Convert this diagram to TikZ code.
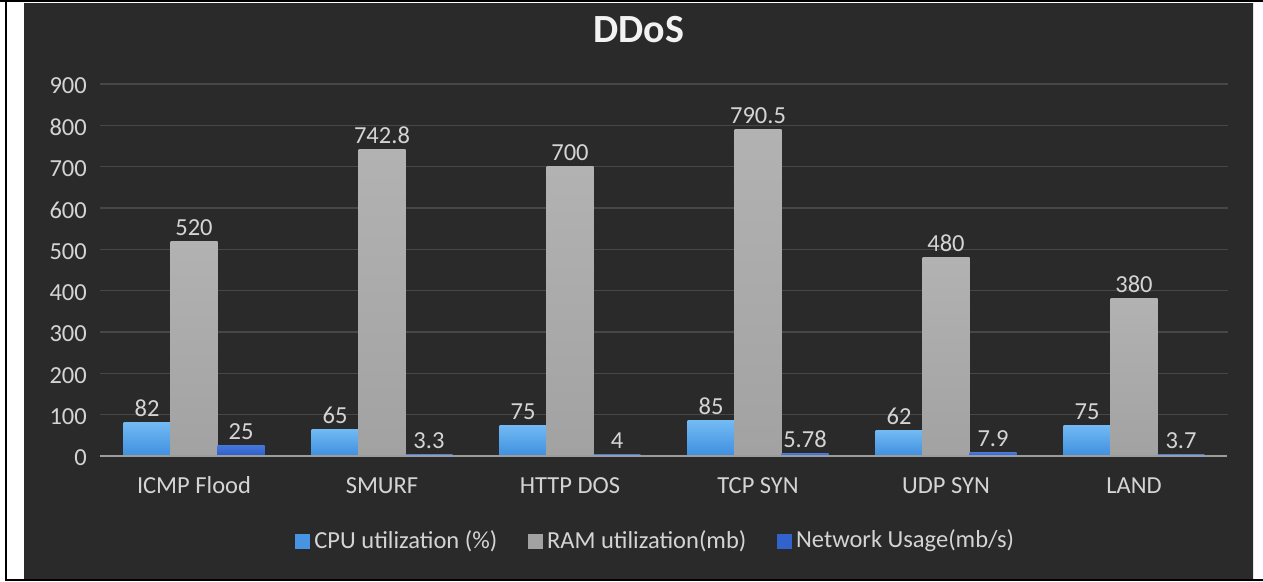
\documentclass[tikz,border=0pt]{standalone}
\usepackage{fontspec}
\setmainfont{Carlito}
\usepackage{xcolor}
\usepackage{tikz}
\usetikzlibrary{positioning}

\definecolor{bgedge}{HTML}{2A2A2A}
\definecolor{bgmid}{HTML}{3D3D3D}
\definecolor{gridgray}{HTML}{474747}
\definecolor{axisgray}{HTML}{9C9C9C}
\definecolor{textgray}{HTML}{D4D4D4}
\definecolor{cputop}{HTML}{72BAF4}
\definecolor{cpubot}{HTML}{3F8FDF}
\definecolor{ramtop}{HTML}{B2B2B2}
\definecolor{rambot}{HTML}{A2A2A2}
\definecolor{nettop}{HTML}{4476DC}
\definecolor{netbot}{HTML}{2D5EC8}

\begin{document}
\begin{tikzpicture}[x=1pt, y=-1pt]

\tikzstyle{lbl} = [text=textgray, inner sep=0pt, font=\fontsize{24.5}{28}\selectfont]
\tikzstyle{title} = [text=white!95!black, inner sep=0pt, font=\fontsize{40}{44}\selectfont\bfseries]
\tikzstyle{gridline} = [draw=gridgray, line width=1.5pt]
\tikzstyle{axis} = [draw=axisgray, line width=2pt]
\tikzstyle{cpubar} = [top color=cputop, bottom color=cpubot]
\tikzstyle{rambar} = [top color=ramtop, bottom color=rambot]
\tikzstyle{netbar} = [top color=nettop, bottom color=netbot]
\tikzstyle{swatch} = [minimum size=15pt, inner sep=0pt]
\tikzstyle{frame} = [draw=black, line width=2.5pt]

\useasboundingbox (0,0) rectangle (1263,581);

% Background
\fill[left color=bgedge, middle color=bgmid, right color=bgedge] (24,3) rectangle (1253,578);
\draw[frame] (0,1.2) -- (1263,1.2);
\draw[frame] (6,0) -- (6,579.8) -- (1263,579.8);

% Grid and ticks
\foreach \v in {100,200,...,900}
  \draw[gridline] (100,{456-\v*0.4133}) -- (1228,{456-\v*0.4133});
\foreach \v in {0,100,...,900}
  \node[lbl, anchor=east] (tick-\v) at (87,{458-\v*0.4133}) {\v};

\node[title] (title) at (639,30) {DDoS};

% Bars and data labels
\foreach \cat/\cpu/\ram/\net [count=\i] in {ICMP Flood/82/520/25, SMURF/65/742.8/3.3, HTTP DOS/75/700/4, TCP SYN/85/790.5/5.78, UDP SYN/62/480/7.9, LAND/75/380/3.7} {
  \pgfmathsetmacro{\cx}{194+188*(\i-1)}
  \fill[cpubar] ({\cx-70.5},456) rectangle ({\cx-23.5},{456-\cpu*0.4133});
  \fill[rambar] ({\cx-23.5},456) rectangle ({\cx+23.5},{456-\ram*0.4133});
  \fill[netbar] ({\cx+23.5},456) rectangle ({\cx+70.5},{456-\net*0.4133});
  \node[lbl, anchor=base] (cpu-\i) at ({\cx-47},{450-\cpu*0.4133}) {\cpu};
  \node[lbl, anchor=base] (ram-\i) at (\cx,{450-\ram*0.4133}) {\ram};
  \node[lbl, anchor=base] (net-\i) at ({\cx+47},{450-\net*0.4133}) {\net};
  \node[lbl, anchor=base] (cat-\i) at (\cx,493) {\cat};
}

\draw[axis] (100,456) -- (1227,456);

% Legend
\node[swatch, fill=cpubot!85!cputop] (leg-cpu) at (302.5,541) {};
\node[lbl, right=4pt of leg-cpu] (legtxt-cpu) {CPU utilization (\%)};
\node[swatch, fill=rambot, right=30pt of legtxt-cpu] (leg-ram) {};
\node[lbl, right=4pt of leg-ram] (legtxt-ram) {RAM utilization(mb)};
\node[swatch, fill=netbot!80!nettop, right=30pt of legtxt-ram] (leg-net) {};
\node[lbl, right=4pt of leg-net] (legtxt-net) {Network Usage(mb/s)};

\end{tikzpicture}
\end{document}
